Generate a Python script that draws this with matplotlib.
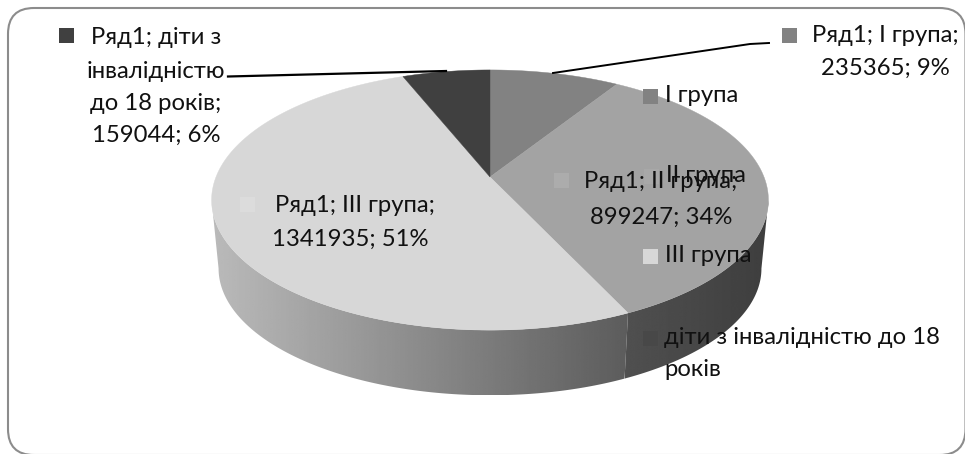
import numpy as np
import matplotlib
matplotlib.use('Agg')
import matplotlib.pyplot as plt
from matplotlib.patches import Polygon, FancyBboxPatch, Rectangle

plt.rcParams['font.family'] = ['Lato', 'Noto Sans', 'DejaVu Sans']

# Данные диаграммы
groups = ['I група', 'II група', 'III група', 'діти з інвалідністю до 18 років']
values = [235365, 899247, 1341935, 159044]
percents = [9, 34, 51, 6]
series = 'Ряд1'
colors = ['#828282', '#a3a3a3', '#d7d7d7', '#404040']

# Геометрия псевдо-3D круга в пикселях исходной картинки
CX, CY = 490, 177
RX, RY = 274, 126
PERSP = 0.177
WALL_SCALE = 0.975
WALL_DY = 69
FS = 17.2


def project(theta, scale=1.0, dy=0.0):
    # theta - угол по часовой стрелке от верхней точки, радианы
    w = 1 + PERSP * np.cos(theta)
    x = RX * np.sin(theta) / w
    y = -RY * np.cos(theta) / w
    return np.column_stack([CX + scale * x, CY + dy + scale * y])


def arc(a, b, scale=1.0, dy=0.0):
    return project(np.linspace(a, b, 160), scale, dy)


def wall(ax, a, b, left_grey, right_grey):
    # Боковая стенка с горизонтальным градиентом
    pts = np.vstack([arc(a, b), arc(b, a, WALL_SCALE, WALL_DY)])
    poly = Polygon(pts, closed=True, facecolor='none', edgecolor='none')
    ax.add_patch(poly)
    x0, x1 = pts[:, 0].min(), pts[:, 0].max()
    y0, y1 = pts[:, 1].min(), pts[:, 1].max()
    grad = np.linspace(left_grey, right_grey, 256).reshape(1, -1)
    im = ax.imshow(grad, extent=(x0, x1, y1, y0), cmap='gray', vmin=0, vmax=1,
                   aspect='auto', interpolation='bilinear', zorder=1)
    im.set_clip_path(poly)


fig = plt.figure(figsize=(9.65, 4.54), dpi=100)
ax = fig.add_axes([0, 0, 1, 1])

# Рамка
frame = FancyBboxPatch((8, 8), 957.5, 447, boxstyle='round,pad=0,rounding_size=26',
                       facecolor='white', edgecolor='#8c8c8c', linewidth=1.5, zorder=0)
ax.add_patch(frame)

# Углы секторов считаются из значений
total = sum(values)
edges = 2 * np.pi * np.cumsum([0] + values) / total
left_tangent = 2 * np.pi - np.arccos(-PERSP)
right_tangent = np.arccos(-PERSP)

wall(ax, edges[2], left_tangent, 0xba / 255, 0x5c / 255)
wall(ax, right_tangent, edges[2], 0x50 / 255, 0x3e / 255)

# Верхняя грань
for i in range(len(values)):
    pts = np.vstack([[CX, CY], arc(edges[i], edges[i + 1])])
    ax.add_patch(Polygon(pts, closed=True, facecolor=colors[i],
                         edgecolor=colors[i], linewidth=0.3, zorder=2))

# Выноски
ax.plot([553, 750, 769], [73, 44, 43], color='black', lw=1.4, zorder=3)
ax.plot([228, 446], [76.5, 71], color='black', lw=1.6, zorder=3)


def key(x, y, color):
    ax.add_patch(Rectangle((x, y - 7.5), 15, 15, facecolor=color, edgecolor='none', zorder=4))


def label(x, lines, ys, ha='center'):
    for line, y in zip(lines, ys):
        ax.text(x, y, line, ha=ha, va='center', fontsize=FS, color='#111111', zorder=5)


# Подписи данных
key(59, 35, colors[3])
label(156, [f'{series}; діти з', 'інвалідністю', 'до 18 років;',
            f'{values[3]}; {percents[3]}%'], [37, 71, 103, 135])
key(782, 35, colors[0])
label(885, [f'{series}; {groups[0]};', f'{values[0]}; {percents[0]}%'], [36, 68])
key(554, 180, '#acacac')
label(661, [f'{series}; {groups[1]};', f'{values[1]}; {percents[1]}%'], [182, 217])
key(240, 204, '#dcdcdc')
label(355, [f'{series}; {groups[2]};'], [205])
label(350, [f'{values[2]}; {percents[2]}%'], [239])

# Легенда поверх круга
key(643, 96, colors[0])
label(665, [groups[0]], [96], ha='left')
key(644, 176, '#a8a8a8')
label(666, [groups[1]], [176], ha='left')
key(643, 256, colors[2])
label(665, [groups[2]], [256], ha='left')
key(643, 338, '#484848')
label(664, ['діти з інвалідністю до 18', 'років'], [338, 369], ha='left')

ax.set_xlim(0, 965)
ax.set_ylim(454, 0)
ax.axis('off')

fig.savefig('out.png', dpi=100)
